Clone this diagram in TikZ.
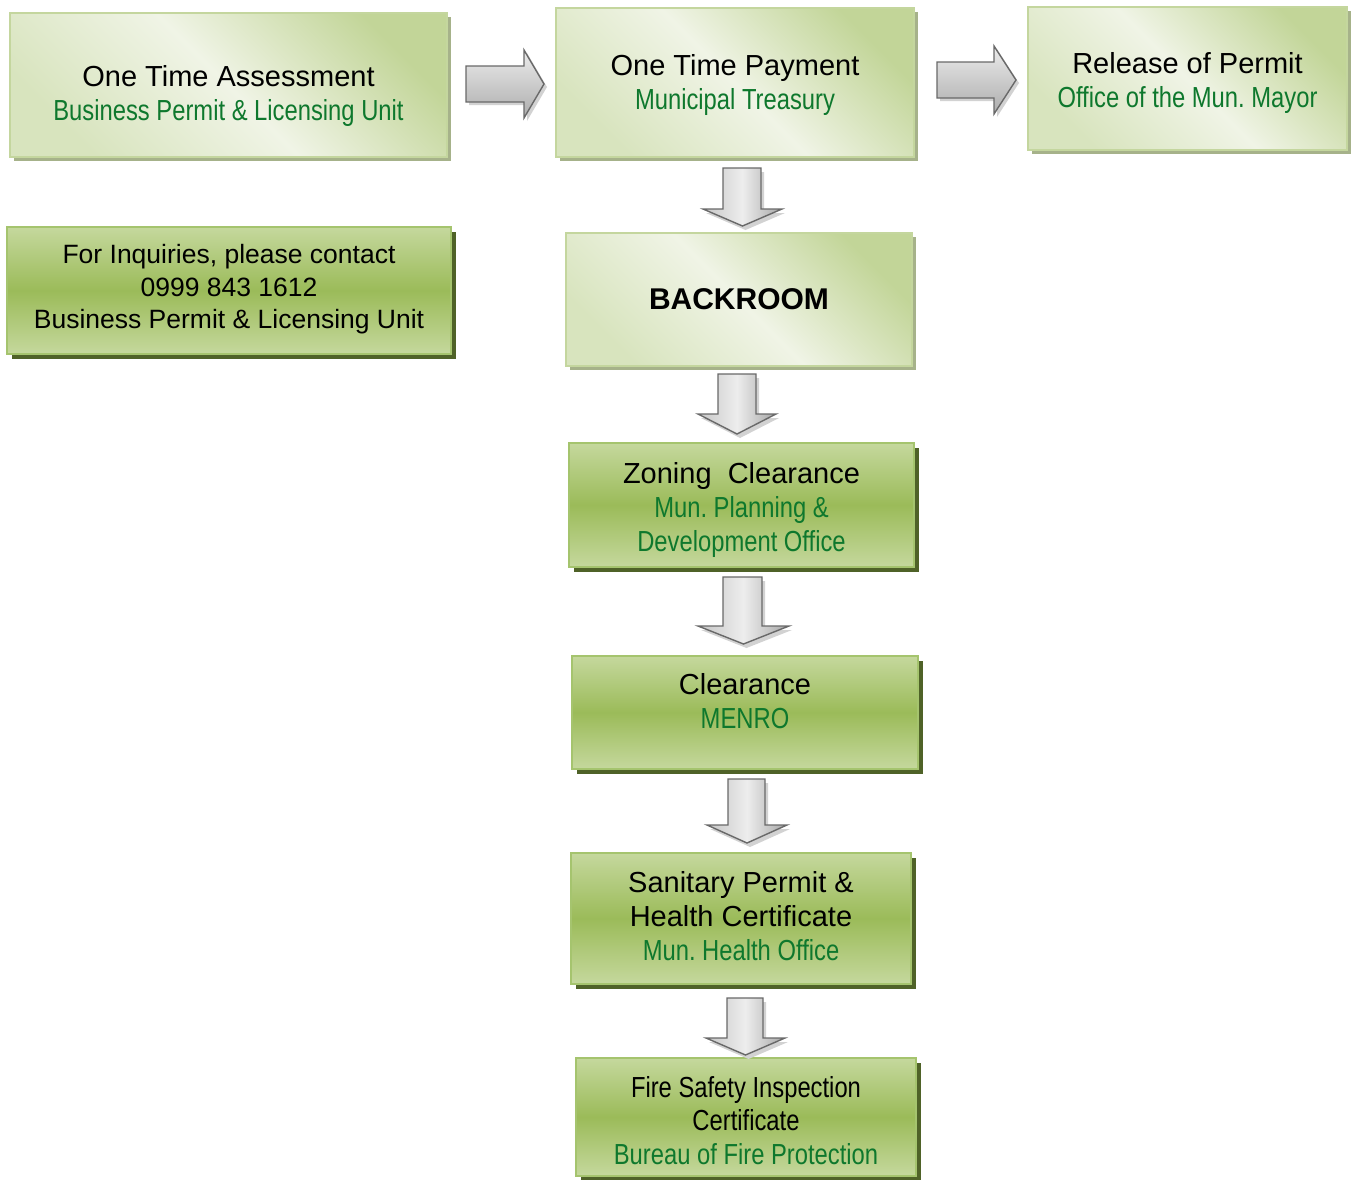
\documentclass[tikz,border=0pt]{standalone}
\usepackage{fontspec}
\setmainfont{Liberation Sans}
\newfontfamily\narrowfont[FakeStretch=0.82]{Liberation Sans}
\usetikzlibrary{calc,shadows}
\definecolor{txtgreen}{RGB}{14,120,45}
\definecolor{lgA}{RGB}{216,228,190}
\definecolor{lgB}{RGB}{240,244,230}
\definecolor{lgC}{RGB}{194,213,152}
\definecolor{lgEdge}{RGB}{196,214,158}
\definecolor{lgShadow}{RGB}{166,178,138}
\definecolor{dgTop}{RGB}{197,216,157}
\definecolor{dgMid}{RGB}{155,187,89}
\definecolor{dgEdge}{RGB}{165,196,110}
\definecolor{dgShadow}{RGB}{79,98,40}
\definecolor{arrEdge}{RGB}{105,105,105}
\newcommand\greenline[1]{{\narrowfont\color{txtgreen}#1}}
\newcommand\rblock[7]{%
  \fill[arrshadow,shift={(3,3)}] (#1,#4) -- (#2,#4) -- (#2,#6) -- (#3,{(#6+#7)/2}) -- (#2,#7) -- (#2,#5) -- (#1,#5) -- cycle;
  \path[rarrow] (#1,#4) -- (#2,#4) -- (#2,#6) -- (#3,{(#6+#7)/2}) -- (#2,#7) -- (#2,#5) -- (#1,#5) -- cycle;}
\newcommand\dblock[7]{%
  \fill[arrshadow,shift={(3,4)}] (#1,#3) -- (#2,#3) -- (#2,#4) -- (#6,#4) -- ({(#5+#6)/2},#7) -- (#5,#4) -- (#1,#4) -- cycle;
  \path[darrow] (#1,#3) -- (#2,#3) -- (#2,#4) -- (#6,#4) -- ({(#5+#6)/2},#7) -- (#5,#4) -- (#1,#4) -- cycle;}
\begin{document}
\frenchspacing
\begin{tikzpicture}[x=1pt,y=-1pt,
  lightbox/.style={draw=lgEdge, line width=1.5pt, left color=lgA, right color=lgC, middle color=lgB, shading angle=135,
    drop shadow={shadow xshift=4pt, shadow yshift=-4pt, fill=lgShadow, opacity=1}},
  darkbox/.style={draw=dgEdge, line width=2pt, top color=dgTop, bottom color=dgTop, middle color=dgMid,
    drop shadow={shadow xshift=5pt, shadow yshift=-5pt, fill=dgShadow, opacity=1}},
  boxtext/.style={align=center, font=\fontsize{29}{34}\selectfont, inner sep=0pt},
  rarrow/.style={draw=arrEdge, line width=1.4pt, line join=miter, top color=gray!15, bottom color=gray!65},
  darrow/.style={draw=arrEdge, line width=1.4pt, line join=miter, left color=gray!45, right color=gray!70, middle color=gray!14},
  arrshadow/.style={fill=gray!35}
]
\useasboundingbox (0,0) rectangle (1353,1179);

% boxes
\node[lightbox, minimum width=437, minimum height=144] (assess) at (228.5,85) {};
\node[lightbox, minimum width=358, minimum height=149] (pay) at (735,82.5) {};
\node[lightbox, minimum width=319, minimum height=143] (release) at (1187.5,78.5) {};
\node[lightbox, minimum width=346, minimum height=133] (back) at (739,299.5) {};
\node[darkbox, minimum width=444, minimum height=127] (inq) at (229,290.5) {};
\node[darkbox, minimum width=345, minimum height=124] (zoning) at (741.5,505) {};
\node[darkbox, minimum width=346, minimum height=113] (clear) at (745,712.5) {};
\node[darkbox, minimum width=340, minimum height=131] (sanit) at (741,918.5) {};
\node[darkbox, minimum width=340, minimum height=118] (fire) at (746,1117) {};

% texts
\node[boxtext] (tassess) at ($(assess.center)+(0,11)$) {One Time Assessment\\\greenline{Business Permit \& Licensing Unit}};
\node[boxtext] (tpay) at ($(pay.center)+(0,2)$) {One Time Payment\\\greenline{Municipal Treasury}};
\node[boxtext] (trelease) at ($(release.center)+(0,4.5)$) {Release of Permit\\\greenline{Office of the Mun. Mayor}};
\node[boxtext, font=\fontsize{30}{34}\selectfont\bfseries] (tback) at (back.center) {BACKROOM};
\node[boxtext, font=\fontsize{26.5}{32.5}\selectfont] (tinq) at ($(inq.center)+(0,-1)$) {For Inquiries, please contact\\0999 843 1612\\Business Permit \& Licensing Unit};
\node[boxtext] (tzoning) at ($(zoning.center)+(0,5)$) {Zoning\ \ Clearance\\\greenline{Mun. Planning \&}\\\greenline{Development Office}};
\node[boxtext] (tclear) at ($(clear.center)+(0,-11.5)$) {Clearance\\\greenline{MENRO}};
\node[boxtext] (tsanit) at ($(sanit.center)+(0,-2)$) {Sanitary Permit \&\\Health Certificate\\\greenline{Mun. Health Office}};
\node[boxtext, font=\fontsize{29}{33.5}\selectfont] (tfire) at ($(fire.center)+(0,3.5)$) {{\narrowfont Fire Safety Inspection}\\{\narrowfont Certificate}\\\greenline{Bureau of Fire Protection}};

% block arrows
\rblock{466}{524}{544}{66}{102}{50}{118}
\rblock{937}{994}{1016}{62}{98}{46}{114}
\dblock{723}{761}{168}{209}{703}{782}{226}
\dblock{718}{756}{374}{414}{698}{776}{434}
\dblock{723}{762}{577}{626}{698}{789}{644}
\dblock{728}{765}{779}{825}{707}{787}{843}
\dblock{727}{763}{998}{1038}{706}{785}{1055}
\end{tikzpicture}
\end{document}
